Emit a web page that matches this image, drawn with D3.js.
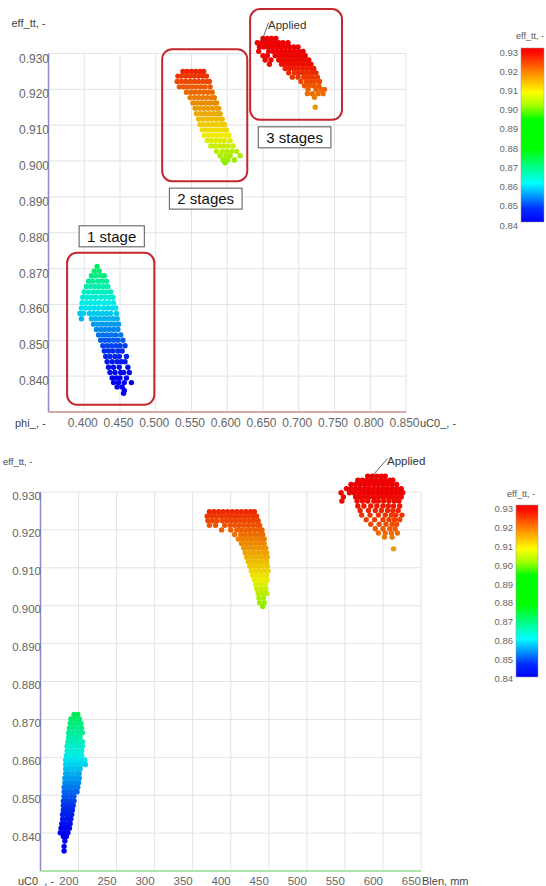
<!DOCTYPE html>
<html>
<head>
<meta charset="utf-8">
<script src="https://cdn.jsdelivr.net/npm/d3@7"></script>
<style>
  body { margin: 0; background: #fff; }
  svg { display: block; font-family: "Liberation Sans", Arial, sans-serif; }
</style>
</head>
<body>
<svg id="chart" width="546" height="886"></svg>
<script>
// rows of design points: [eff_tt, [x values read at that eff level]]
const phiStage1 = [
  [0.8706, [0.418]],
  [0.8693, [0.414, 0.421]],
  [0.8680, [0.410, 0.416, 0.423, 0.428]],
  [0.8665, [0.406, 0.412, 0.419, 0.425, 0.431]],
  [0.8650, [0.403, 0.409, 0.415, 0.421, 0.427, 0.433]],
  [0.8635, [0.400, 0.406, 0.413, 0.419, 0.425, 0.431, 0.437]],
  [0.8620, [0.398, 0.404, 0.410, 0.416, 0.423, 0.429, 0.435, 0.440]],
  [0.8605, [0.397, 0.403, 0.409, 0.415, 0.421, 0.428, 0.434, 0.441]],
  [0.8590, [0.396, 0.402, 0.408, 0.414, 0.420, 0.427, 0.433, 0.439, 0.444]],
  [0.8575, [0.394, 0.399, 0.407, 0.413, 0.419, 0.425, 0.431, 0.437, 0.445]],
  [0.8560, [0.396, 0.410, 0.416, 0.422, 0.428, 0.434, 0.440, 0.446]],
  [0.8545, [0.413, 0.419, 0.425, 0.431, 0.437, 0.443, 0.448]],
  [0.8530, [0.417, 0.423, 0.429, 0.435, 0.441, 0.447]],
  [0.8515, [0.420, 0.426, 0.432, 0.438, 0.444, 0.451]],
  [0.8500, [0.423, 0.429, 0.435, 0.441, 0.447, 0.454]],
  [0.8485, [0.426, 0.432, 0.438, 0.444, 0.450, 0.457]],
  [0.8470, [0.428, 0.434, 0.440, 0.447, 0.453]],
  [0.8455, [0.430, 0.436, 0.443, 0.449, 0.459]],
  [0.8440, [0.432, 0.439, 0.446, 0.452, 0.457]],
  [0.8425, [0.434, 0.441, 0.449, 0.461]],
  [0.8410, [0.436, 0.443, 0.451, 0.455, 0.463]],
  [0.8395, [0.439, 0.445, 0.450, 0.459]],
  [0.8382, [0.441, 0.448, 0.456, 0.466]],
  [0.8370, [0.446, 0.453]],
  [0.8360, [0.456]],
  [0.8352, [0.455]]
]

const phiStage2 = [
  [0.9250, [0.538, 0.544, 0.550, 0.556, 0.562, 0.567]],
  [0.9237, [0.531, 0.536, 0.542, 0.548, 0.554, 0.560, 0.566, 0.571]],
  [0.9222, [0.530, 0.536, 0.542, 0.548, 0.554, 0.560, 0.566, 0.572, 0.575]],
  [0.9207, [0.533, 0.539, 0.545, 0.551, 0.557, 0.563, 0.569, 0.576]],
  [0.9192, [0.543, 0.549, 0.555, 0.561, 0.567, 0.573, 0.579]],
  [0.9177, [0.548, 0.554, 0.560, 0.566, 0.572, 0.578, 0.582]],
  [0.9162, [0.552, 0.558, 0.564, 0.570, 0.576, 0.582, 0.585]],
  [0.9147, [0.555, 0.561, 0.567, 0.573, 0.579, 0.585, 0.588]],
  [0.9132, [0.557, 0.563, 0.569, 0.575, 0.581, 0.587, 0.590]],
  [0.9117, [0.560, 0.566, 0.572, 0.578, 0.584, 0.590, 0.593]],
  [0.9102, [0.562, 0.568, 0.574, 0.580, 0.586, 0.592, 0.596]],
  [0.9087, [0.565, 0.571, 0.577, 0.583, 0.589, 0.595, 0.599]],
  [0.9072, [0.568, 0.574, 0.580, 0.586, 0.592, 0.598, 0.602]],
  [0.9057, [0.572, 0.578, 0.584, 0.590, 0.596, 0.604]],
  [0.9042, [0.577, 0.583, 0.589, 0.595, 0.601, 0.608]],
  [0.9027, [0.585, 0.593, 0.599, 0.606, 0.613]],
  [0.9015, [0.590, 0.598, 0.604, 0.618]],
  [0.9003, [0.594, 0.601, 0.610]],
  [0.8995, [0.597]]
]

const phiStage3 = [
  [0.9342, [0.650, 0.656, 0.662, 0.668]],
  [0.9330, [0.642, 0.648, 0.654, 0.660, 0.666, 0.672, 0.678, 0.685]],
  [0.9318, [0.645, 0.651, 0.657, 0.663, 0.669, 0.675, 0.681, 0.687, 0.693, 0.699]],
  [0.9306, [0.644, 0.658, 0.664, 0.670, 0.676, 0.682, 0.688, 0.694, 0.700, 0.706]],
  [0.9294, [0.650, 0.656, 0.667, 0.673, 0.679, 0.685, 0.691, 0.697, 0.703, 0.709]],
  [0.9282, [0.653, 0.661, 0.672, 0.678, 0.684, 0.690, 0.696, 0.702, 0.708, 0.714]],
  [0.9270, [0.659, 0.676, 0.682, 0.688, 0.694, 0.700, 0.706, 0.712, 0.717]],
  [0.9258, [0.681, 0.687, 0.693, 0.699, 0.705, 0.711, 0.717, 0.721]],
  [0.9246, [0.686, 0.694, 0.700, 0.706, 0.712, 0.718, 0.724]],
  [0.9234, [0.691, 0.699, 0.707, 0.713, 0.719, 0.726]],
  [0.9222, [0.703, 0.711, 0.716, 0.722, 0.729]],
  [0.9210, [0.708, 0.715, 0.721, 0.728]],
  [0.9200, [0.713, 0.724, 0.731, 0.736]],
  [0.9188, [0.712, 0.719, 0.727, 0.734]],
  [0.9178, [0.722]],
  [0.9150, [0.723]]
]

const blenStage1 = [
  [0.8713, [194, 199]],
  [0.8701, [190, 195, 201]],
  [0.8689, [189, 194, 199, 203]],
  [0.8677, [188, 193, 198, 204]],
  [0.8665, [187, 192, 197, 202, 205]],
  [0.8653, [187, 192, 197, 202]],
  [0.8641, [186, 191, 196, 201, 205]],
  [0.8629, [185, 190, 195, 200, 205]],
  [0.8617, [185, 190, 195, 200, 204]],
  [0.8605, [184, 189, 194, 199, 204]],
  [0.8593, [183, 188, 193, 198, 203, 208]],
  [0.8581, [183, 188, 193, 198, 203, 209]],
  [0.8569, [183, 188, 193, 198, 202]],
  [0.8557, [183, 187, 192, 197, 201]],
  [0.8545, [182, 187, 192, 197, 201]],
  [0.8533, [182, 186, 191, 196, 200]],
  [0.8521, [181, 186, 191, 196, 199]],
  [0.8509, [181, 185, 190, 195, 198]],
  [0.8497, [181, 185, 190, 194]],
  [0.8485, [180, 185, 189, 194]],
  [0.8473, [180, 184, 189, 193]],
  [0.8461, [180, 184, 188, 192]],
  [0.8449, [179, 184, 188, 191]],
  [0.8437, [179, 183, 187, 190]],
  [0.8425, [178, 182, 187, 189]],
  [0.8413, [177, 181, 186, 188]],
  [0.8401, [176, 181, 186]],
  [0.8391, [180, 184]],
  [0.8379, [182]],
  [0.8365, [181]],
  [0.8353, [181]]
]

const blenStage2 = [
  [0.9248, [372, 378, 384, 390, 396, 402, 408, 414, 420, 426, 431]],
  [0.9236, [369, 375, 381, 387, 393, 399, 405, 411, 417, 423, 429, 434]],
  [0.9224, [370, 376, 382, 389, 395, 401, 407, 413, 419, 425, 431, 436]],
  [0.9212, [372, 380, 392, 399, 405, 411, 417, 423, 429, 435, 438]],
  [0.9200, [388, 400, 408, 414, 420, 426, 432, 438, 441]],
  [0.9188, [405, 413, 419, 425, 431, 437, 442]],
  [0.9176, [410, 416, 422, 428, 434, 440, 444]],
  [0.9164, [414, 420, 426, 432, 438, 444]],
  [0.9152, [417, 423, 429, 435, 441, 446]],
  [0.9140, [419, 425, 431, 437, 443, 447]],
  [0.9128, [421, 427, 433, 439, 445, 448]],
  [0.9116, [423, 429, 435, 441, 447]],
  [0.9104, [425, 431, 437, 443, 448]],
  [0.9092, [427, 433, 439, 445, 449]],
  [0.9080, [429, 435, 441, 447]],
  [0.9068, [431, 437, 443, 448]],
  [0.9056, [433, 439, 445]],
  [0.9044, [434, 440, 446]],
  [0.9032, [436, 442, 447]],
  [0.9020, [437, 443]],
  [0.9008, [438, 444]],
  [0.8998, [442]]
]

const blenStage3 = [
  [0.9342, [580, 586, 592, 598, 603]],
  [0.9331, [567, 573, 579, 585, 591, 597, 603, 609, 613]],
  [0.9320, [558, 564, 570, 576, 582, 588, 594, 600, 606, 612, 618]],
  [0.9309, [552, 558, 564, 570, 576, 582, 588, 594, 600, 606, 612, 618, 624]],
  [0.9298, [545, 556, 562, 568, 574, 580, 586, 592, 598, 604, 610, 616, 622, 626]],
  [0.9287, [548, 564, 570, 576, 582, 588, 594, 600, 606, 612, 618, 624]],
  [0.9276, [546, 566, 573, 580, 588, 594, 601, 608, 615, 621]],
  [0.9263, [567, 575, 584, 592, 600, 607, 614, 622]],
  [0.9251, [570, 581, 590, 598, 606, 613, 620]],
  [0.9239, [572, 583, 594, 603, 611, 617, 625]],
  [0.9227, [578, 589, 600, 608, 615, 622]],
  [0.9215, [584, 595, 604, 612, 618]],
  [0.9203, [590, 600, 609, 616]],
  [0.9192, [594, 603, 611, 619]],
  [0.9181, [602, 612]],
  [0.9150, [614]]
]

const effTicks = [0.84, 0.85, 0.86, 0.87, 0.88, 0.89, 0.90, 0.91, 0.92, 0.93]
const phiTicks = [0.40, 0.45, 0.50, 0.55, 0.60, 0.65, 0.70, 0.75, 0.80, 0.85]
const blenTicks = [200, 250, 300, 350, 400, 450, 500, 550, 600, 650]
const barTicks = [0.93, 0.92, 0.91, 0.90, 0.89, 0.88, 0.87, 0.86, 0.85, 0.84]

// stage groups in the top chart: [phi min, phi max, eff min, eff max]
const stageNames = ['1 stage', '2 stages', '3 stages']
const stageExtents = [
  [0.376, 0.498, 0.8320, 0.8744],
  [0.509, 0.628, 0.8944, 0.9312],
  [0.632, 0.7605, 0.9115, 0.9424]
]
const appliedPhi = [0.6482, 0.9333]
const appliedBlen = [585, 0.9340]

// rainbow map used by the tool for eff_tt
const colorStops = [0.84, 0.847, 0.853, 0.86, 0.869, 0.878, 0.893, 0.90, 0.907, 0.918, 0.927, 0.93]
const colorList = ['#0000ff', '#0030ff', '#0090ff', '#00ffff', '#00ff80', '#00ff00',
                   '#00ff00', '#a0ff00', '#ffff00', '#ff8000', '#ff1000', '#ff0000']
const color = d3.scaleLinear().domain(colorStops).range(colorList).clamp(true)

const svg = d3.select('#chart')
svg.append('rect').attr('width', 546).attr('height', 886).attr('fill', '#fff')

const toPoints = rows => rows.flatMap(([e, xs]) => xs.map(x => ({ x: x, e: e })))

const drawPanel = (cfg) => {
  const x = d3.scaleLinear().domain(cfg.xDomain).range(cfg.xRange)
  const y = d3.scaleLinear().domain([0.83, 0.93]).range(cfg.yRange)
  const g = svg.append('g')
  const top = y(0.93), bottom = y(0.83), left = x(cfg.xDomain[0]), right = x(cfg.xDomain[1])

  // grid
  g.selectAll('line.vg').data(cfg.xTicks).enter().append('line')
    .attr('x1', d => x(d)).attr('x2', d => x(d))
    .attr('y1', top).attr('y2', bottom)
    .attr('stroke', '#e3e3e3')
  g.selectAll('line.hg').data(effTicks).enter().append('line')
    .attr('x1', left).attr('x2', right)
    .attr('y1', d => y(d)).attr('y2', d => y(d))
    .attr('stroke', '#e3e3e3')

  // axis lines
  g.append('line').attr('x1', left).attr('x2', left).attr('y1', top).attr('y2', bottom)
    .attr('stroke', '#8a8ac8').attr('stroke-width', 1.5)
  g.append('line').attr('x1', left).attr('x2', right).attr('y1', bottom).attr('y2', bottom)
    .attr('stroke', cfg.xAxisColor).attr('stroke-width', 1.5)

  // tick labels
  g.selectAll('text.yt').data(effTicks).enter().append('text')
    .attr('x', left + 0.5).attr('y', d => y(d) + cfg.yLabelDy)
    .attr('text-anchor', 'end').attr('font-size', cfg.fontSize).attr('fill', '#666')
    .text(d => d3.format('.3f')(d))
  g.selectAll('text.xt').data(cfg.xTicks).enter().append('text')
    .attr('x', d => x(d) + cfg.xLabelDx).attr('y', cfg.xLabelY)
    .attr('text-anchor', cfg.xLabelAnchor).attr('font-size', cfg.fontSize).attr('fill', '#666')
    .text(d => d3.format(cfg.xFormat)(d))

  // titles
  g.append('text').attr('x', cfg.yTitle[0]).attr('y', cfg.yTitle[1])
    .attr('font-size', cfg.yTitle[2]).attr('fill', '#444').text('eff_tt, -')
  cfg.xTitles.forEach(t => {
    g.append('text').attr('x', t[1]).attr('y', cfg.xLabelY)
      .attr('font-size', 11).attr('fill', '#444').text(t[0])
  })

  // points
  g.selectAll('circle').data(cfg.series.flatMap(toPoints)).enter().append('circle')
    .attr('cx', d => x(d.x)).attr('cy', d => y(d.e)).attr('r', 2.7)
    .attr('fill', d => d3.color(color(d.e)).darker(0.2))

  // applied marker label
  const ax = x(cfg.applied[0]), ay = y(cfg.applied[1])
  g.append('line').attr('x1', cfg.appliedLabel[0] + 0.5).attr('y1', cfg.appliedLabel[1] - 6)
    .attr('x2', ax).attr('y2', ay).attr('stroke', '#444').attr('stroke-width', 0.8)
  g.append('text').attr('x', cfg.appliedLabel[0]).attr('y', cfg.appliedLabel[1])
    .attr('font-size', 11.5).attr('fill', '#333').text('Applied')

  return { x, y, g }
}

const topPanel = drawPanel({
  xDomain: [0.35, 0.85], xRange: [48.5, 406], yRange: [412, 53.5],
  xTicks: phiTicks, xFormat: '.3f', xLabelDx: -1.5, xLabelAnchor: 'middle', xLabelY: 426.5,
  yLabelDy: 9, fontSize: 12, xAxisColor: '#c98b8b',
  yTitle: [11.5, 27, 11],
  xTitles: [['phi_, -', 15], ['uC0_, -', 420]],
  series: [phiStage1, phiStage2, phiStage3],
  applied: appliedPhi, appliedLabel: [268, 28.5]
})

drawPanel({
  xDomain: [150, 650], xRange: [40.5, 421], yRange: [871, 492],
  xTicks: blenTicks, xFormat: 'd', xLabelDx: 0, xLabelAnchor: 'end', xLabelY: 885,
  yLabelDy: 7.5, fontSize: 11.5, xAxisColor: '#8fdc8f',
  yTitle: [3, 465, 9.5],
  xTitles: [['uC0_, -', 18], ['Blen, mm', 422]],
  series: [blenStage1, blenStage2, blenStage3],
  applied: appliedBlen, appliedLabel: [387, 464.5]
})

// stage boxes on the top chart
const tx = topPanel.x, ty = topPanel.y
stageExtents.forEach((s, i) => {
  const x0 = tx(s[0]), x1 = tx(s[1]), y0 = ty(s[3]), y1 = ty(s[2])
  topPanel.g.append('rect')
    .attr('x', x0).attr('y', y0).attr('width', x1 - x0).attr('height', y1 - y0)
    .attr('rx', 10).attr('fill', 'none').attr('stroke', '#c4262e').attr('stroke-width', 2)
  const label = topPanel.g.append('g')
  const txt = label.append('text').attr('font-size', 15).attr('fill', '#111')
    .attr('text-anchor', 'middle').text(stageNames[i])
  const w = txt.node().getComputedTextLength() + 16
  const cx = (x0 + x1) / 2 + (i === 2 ? -1.5 : 1)
  const by = i === 0 ? y0 - 27 : y1 + 7
  label.insert('rect', 'text')
    .attr('x', cx - w / 2).attr('y', by).attr('width', w).attr('height', 21)
    .attr('fill', '#fff').attr('stroke', '#555').attr('stroke-width', 1)
  txt.attr('x', cx).attr('y', by + 16)
})

// colour bars
const defs = svg.append('defs')
const grad = defs.append('linearGradient').attr('id', 'effGrad')
  .attr('x1', 0).attr('y1', 0).attr('x2', 0).attr('y2', 1)
grad.selectAll('stop').data(colorStops.slice().reverse()).enter().append('stop')
  .attr('offset', d => (0.93 - d) / 0.09)
  .attr('stop-color', d => color(d))

const drawBar = (b) => {
  const yl = d3.scaleLinear().domain([0.93, 0.84]).range(b.labelRange)
  svg.append('rect').attr('x', b.x).attr('y', b.y0).attr('width', b.w).attr('height', b.y1 - b.y0)
    .attr('fill', 'url(#effGrad)').attr('stroke', '#999').attr('stroke-width', 0.5)
  svg.selectAll(null).data(barTicks).enter().append('text')
    .attr('x', b.x - 3).attr('y', d => yl(d) + 3.5)
    .attr('text-anchor', 'end').attr('font-size', 9.5).attr('fill', '#666')
    .text(d => d3.format('.2f')(d))
  svg.append('text').attr('x', b.titleX).attr('y', b.titleY)
    .attr('text-anchor', 'middle').attr('font-size', 9).attr('fill', '#555').text('eff_tt, -')
}
drawBar({ x: 521, w: 23, y0: 48, y1: 222, labelRange: [52, 225], titleX: 530, titleY: 39 })
drawBar({ x: 516, w: 22, y0: 505, y1: 677, labelRange: [508.5, 678.5], titleX: 521, titleY: 497 })
</script>
</body>
</html>
